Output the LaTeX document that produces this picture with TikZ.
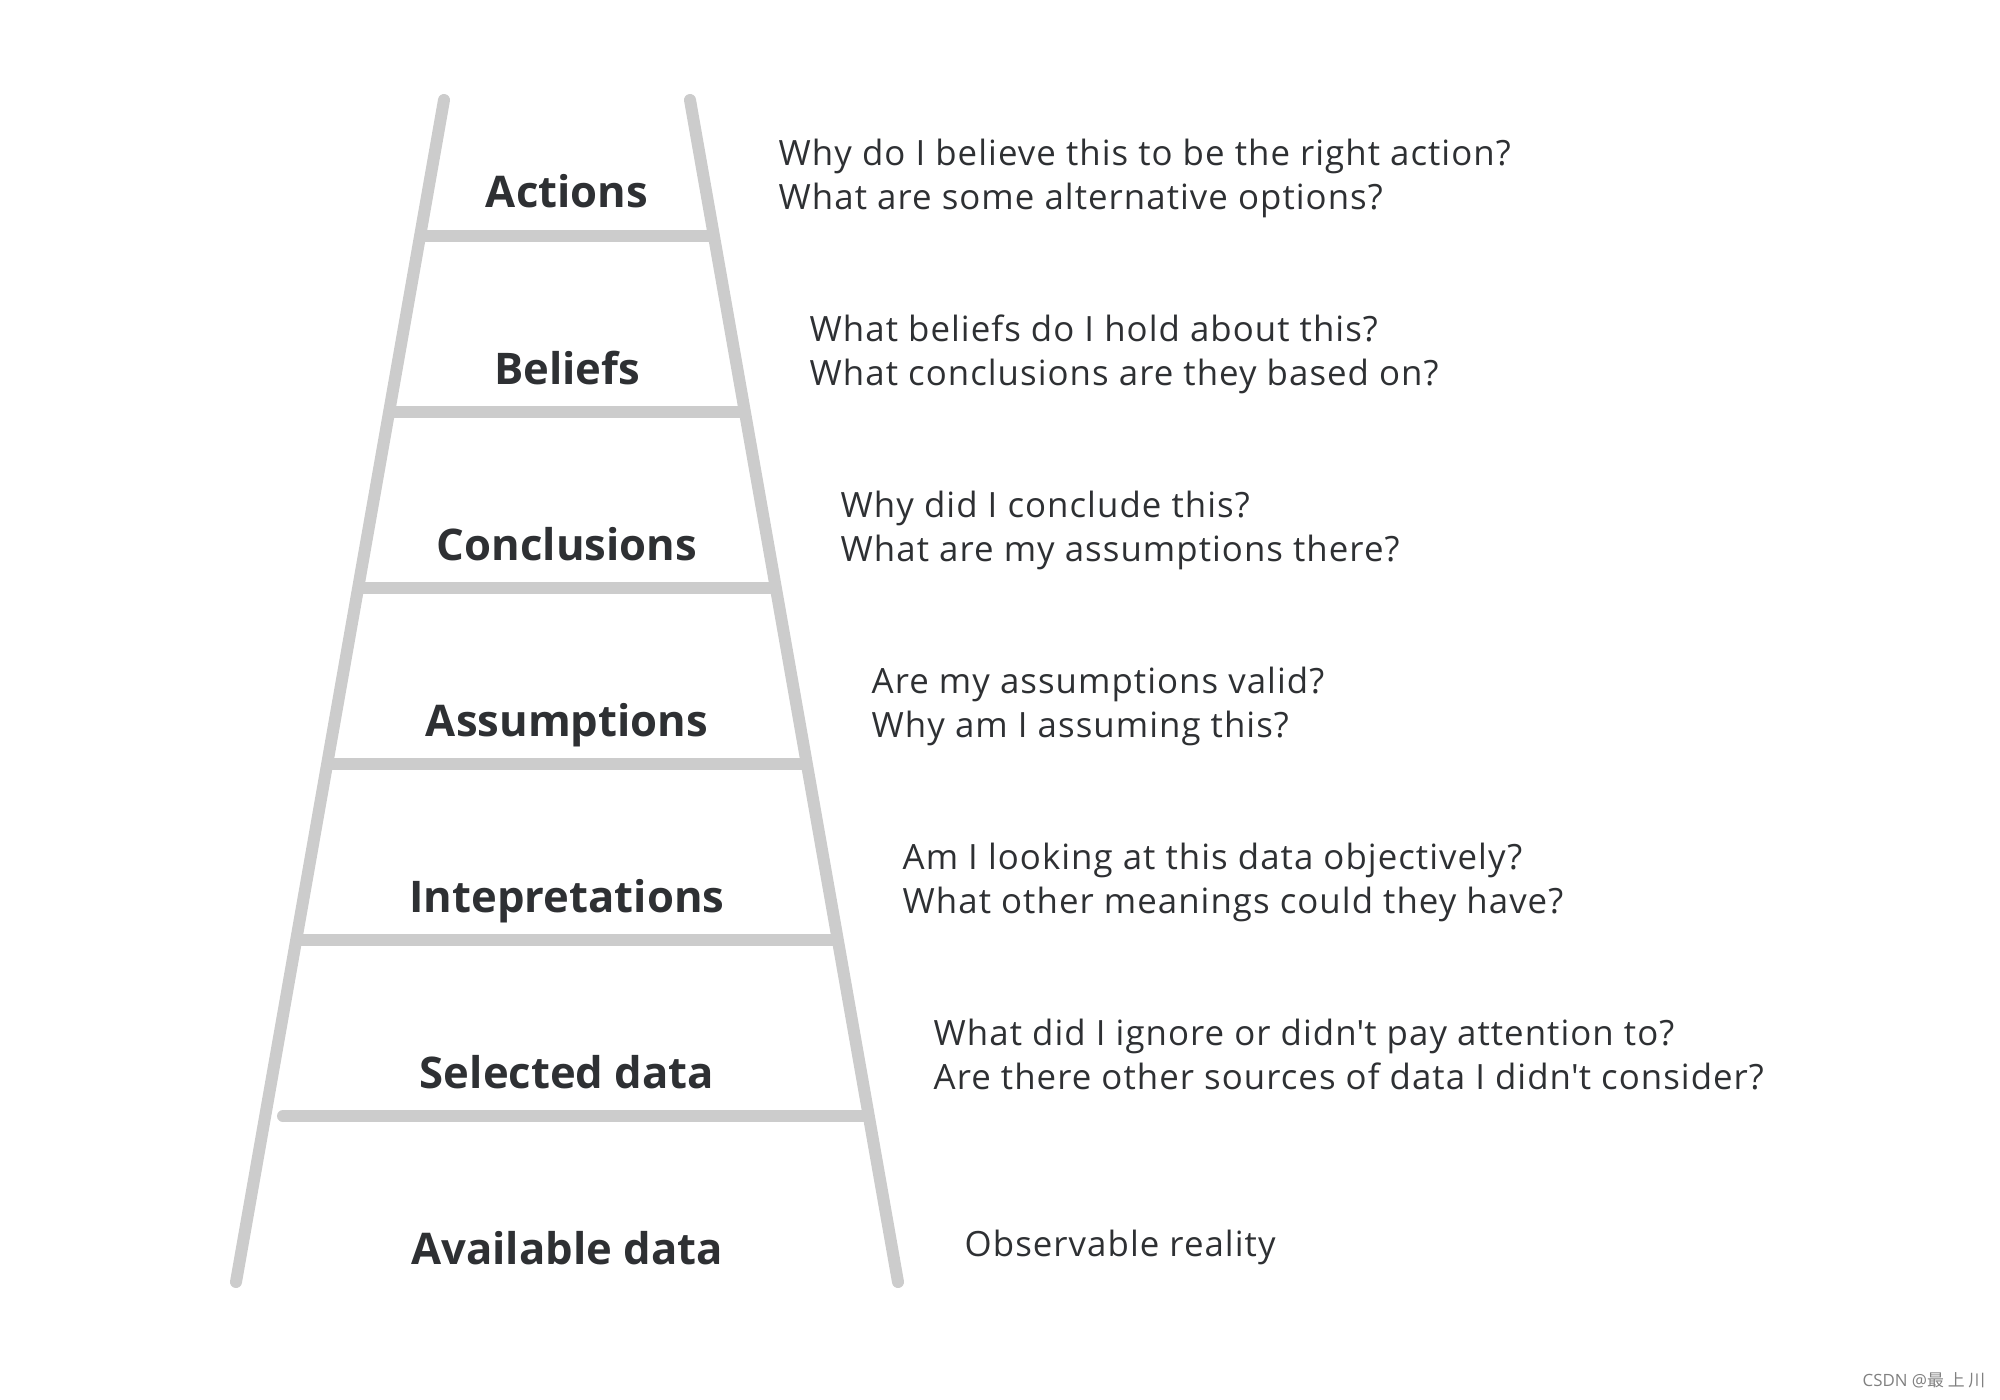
\documentclass[tikz,border=0pt]{standalone}
\usepackage{fontspec}
\setmainfont{Open Sans}
\newfontfamily\cjkfont{Noto Sans CJK SC}
\definecolor{railgray}{RGB}{204,204,204}
\definecolor{inkdark}{RGB}{46,48,51}
\tikzset{
  rail/.style={draw=railgray, line width=0.12cm, line cap=round},
  rung/.style={draw=railgray, line width=0.12cm},
  steplabel/.style={anchor=base, inner sep=0pt, text=inkdark, font=\fontsize{12.4}{15}\selectfont\bfseries},
  question/.style={anchor=base west, inner sep=0pt, text=inkdark, align=left, font=\fontsize{9.9}{12.5}\selectfont\addfontfeatures{LetterSpace=3}}
}
\begin{document}
\begin{tikzpicture}[x=0.01cm, y=-0.01cm]
        \useasboundingbox ( 0, 0 ) rectangle ( 2000, 1400 );

        % стойки
        \coordinate (lt) at ( 444, 100 );
        \coordinate (lb) at ( 236, 1282 );
        \coordinate (rt) at ( 690, 100 );
        \coordinate (rb) at ( 898, 1282 );
        \draw [rail] (lt) -- (lb);
        \draw [rail] (rt) -- (rb);

        % ступени
        \draw [rung] ( 420.1, 236 ) -- ( 713.9, 236 );
        \draw [rung] ( 389.1, 412 ) -- ( 744.9, 412 );
        \draw [rung] ( 358.1, 588 ) -- ( 775.9, 588 );
        \draw [rung] ( 327.1, 764 ) -- ( 806.9, 764 );
        \draw [rung] ( 296.1, 940 ) -- ( 837.9, 940 );
        % нижняя ступень
        \coordinate (sl) at ( 283, 1116 );
        \coordinate (sr) at ( 868.9, 1116 );
        \draw [rung] (sr) -- (sl);
        \fill [railgray] (sl) circle [ radius = 6 ];

        % названия
        \node [steplabel] (actions) at ( 567, 208 ) {Actions};
        \node [steplabel] (beliefs) at ( 567, 384 ) {Beliefs};
        \node [steplabel] (conclusions) at ( 567, 560 ) {Conclusions};
        \node [steplabel] (assumptions) at ( 567, 736 ) {Assumptions};
        \node [steplabel] (interpretations) at ( 567, 912 ) {Intepretations};
        \node [steplabel] (selected) at ( 567, 1088 ) {Selected data};
        \node [steplabel] (available) at ( 567, 1264 ) {Available data};

        % вопросы (опорная линия -- вторая строка)
        \node [question] (qactions) at ( 778, 209.7 ) {Why do I believe this to be the right action?\\What are some alternative options?};
        \node [question] (qbeliefs) at ( 809, 385.7 ) {What beliefs do I hold about this?\\What conclusions are they based on?};
        \node [question] (qconclusions) at ( 840, 561.7 ) {Why did I conclude this?\\What are my assumptions there?};
        \node [question] (qassumptions) at ( 871, 737.7 ) {Are my assumptions valid?\\Why am I assuming this?};
        \node [question] (qinterpretations) at ( 902, 913.7 ) {Am I looking at this data objectively?\\What other meanings could they have?};
        \node [question] (qselected) at ( 933, 1089.7 ) {What did I ignore or didn\textquotesingle t pay attention to?\\Are there other sources of data I didn\textquotesingle t consider?};
        \node [question] (qavailable) at ( 964, 1256 ) {Observable reality};

        % подпись
        \node [anchor=base east, inner sep=0pt, text=gray, font=\fontsize{4.8}{6}\selectfont] (mark) at ( 1986, 1386 ) {CSDN @{\cjkfont 最 上 川}};
\end{tikzpicture}
\end{document}
